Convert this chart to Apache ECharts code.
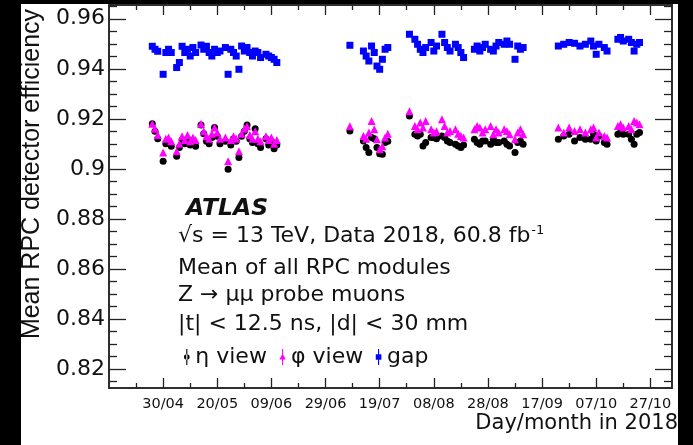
<!DOCTYPE html>
<html><head><meta charset="utf-8">
<script src="https://cdn.jsdelivr.net/npm/echarts@6/dist/echarts.min.js"></script>
<style>
html,body{margin:0;padding:0;background:#000;overflow:hidden;}
#frame{position:absolute;left:21px;top:4px;width:657px;height:441px;background:#fff;}
#chart{position:absolute;left:0;top:0;width:693px;height:445px;}
</style></head>
<body><div id="frame"></div><div id="chart"></div>
<script>
// Day of year 2018 of each run
const runDays = [
  116,117,118,120,121,122,123,125,126,127,128,129,130,131,132,134,135,136,137,138,139,140,141,143,144,145,146,147,148,149,150,151,152,153,154,155,156,158,159,160,161,162,
  189,194,195,196,197,198,199,200,201,202,203,
  211,213,214,215,216,217,219,220,221,223,224,225,226,228,229,230,231,235,236,237,238,239,241,242,243,244,246,247,248,250,251,252,253,
  266,268,270,272,274,276,278,279,280,281,283,284,
  288,289,290,292,293,294,295,296
];
const etaEff = [
  0.9180,0.9150,0.9120,0.9030,0.9100,0.9110,0.9090,0.9050,0.9085,0.9115,0.9100,0.9120,0.9095,0.9110,0.9090,0.9175,0.9140,0.9110,0.9100,0.9125,0.9165,0.9130,0.9100,0.9110,0.8998,0.9095,0.9120,0.9110,0.9045,0.9130,0.9150,0.9175,0.9120,0.9105,0.9160,0.9100,0.9085,0.9120,0.9095,0.9110,0.9080,0.9095,
  0.9151,0.9111,0.9085,0.9065,0.9125,0.9120,0.9085,0.9060,0.9058,0.9105,0.9110,
  0.9211,0.9138,0.9131,0.9138,0.9091,0.9105,0.9125,0.9125,0.9120,0.9131,0.9125,0.9111,0.9105,0.9098,0.9091,0.9085,0.9095,0.9118,0.9105,0.9098,0.9111,0.9111,0.9098,0.9118,0.9105,0.9105,0.9111,0.9098,0.9091,0.9065,0.9105,0.9111,0.9098,
  0.9118,0.9131,0.9138,0.9111,0.9125,0.9118,0.9118,0.9138,0.9111,0.9131,0.9105,0.9098,
  0.9138,0.9145,0.9138,0.9138,0.9118,0.9098,0.9138,0.9145
];
const phiEff = [
  0.9180,0.9160,0.9135,0.9065,0.9120,0.9125,0.9110,0.9070,0.9100,0.9130,0.9115,0.9135,0.9110,0.9125,0.9115,0.9180,0.9150,0.9130,0.9120,0.9140,0.9165,0.9145,0.9120,0.9125,0.9030,0.9115,0.9130,0.9120,0.9070,0.9140,0.9160,0.9170,0.9135,0.9120,0.9150,0.9120,0.9110,0.9130,0.9115,0.9125,0.9100,0.9115,
  0.9170,0.9131,0.9120,0.9145,0.9191,0.9158,0.9118,0.9078,0.9090,0.9125,0.9140,
  0.9230,0.9171,0.9158,0.9185,0.9165,0.9191,0.9158,0.9145,0.9150,0.9198,0.9171,0.9145,0.9151,0.9158,0.9140,0.9131,0.9125,0.9158,0.9171,0.9165,0.9145,0.9158,0.9171,0.9138,0.9158,0.9145,0.9158,0.9151,0.9138,0.9118,0.9145,0.9158,0.9138,
  0.9165,0.9145,0.9165,0.9151,0.9158,0.9145,0.9158,0.9165,0.9125,0.9145,0.9131,0.9125,
  0.9171,0.9178,0.9165,0.9171,0.9158,0.9191,0.9185,0.9178
];
const gapEff = [
  0.9490,0.9478,0.9470,0.9378,0.9465,0.9478,0.9465,0.9405,0.9425,0.9490,0.9465,0.9478,0.9451,0.9485,0.9465,0.9495,0.9478,0.9490,0.9465,0.9451,0.9478,0.9465,0.9471,0.9485,0.9378,0.9478,0.9465,0.9451,0.9398,0.9491,0.9471,0.9485,0.9465,0.9451,0.9471,0.9465,0.9445,0.9458,0.9451,0.9445,0.9438,0.9425,
  0.9494,0.9471,0.9451,0.9431,0.9491,0.9465,0.9411,0.9398,0.9438,0.9478,0.9485,
  0.9538,0.9518,0.9498,0.9478,0.9465,0.9485,0.9505,0.9471,0.9491,0.9538,0.9505,0.9485,0.9471,0.9498,0.9485,0.9465,0.9445,0.9478,0.9491,0.9471,0.9485,0.9498,0.9478,0.9471,0.9491,0.9505,0.9498,0.9511,0.9498,0.9438,0.9491,0.9478,0.9485,
  0.9491,0.9498,0.9505,0.9502,0.9491,0.9498,0.9511,0.9491,0.9458,0.9498,0.9485,0.9471,
  0.9518,0.9525,0.9511,0.9518,0.9505,0.9471,0.9498,0.9505
];
const seriesNames = ['η view', 'φ view', 'gap'];
const xTickDays = [120,140,160,180,200,220,240,260,280,300];
const xTickLabels = ['30/04','20/05','09/06','29/06','19/07','08/08','28/08','17/09','07/10','27/10'];
const yTickValues = [0.82,0.84,0.86,0.88,0.90,0.92,0.94,0.96];

const X_MIN = 100, X_MAX = 308;
const Y_MIN = 0.8124, Y_MAX = 0.9655;
const FONT = 'DejaVu Sans';
const HELV = 'Liberation Sans';
const INK = '#111';
const LINE = '#222';

const xMinor = xTickDays.map(d => d - 10);
const yMinor = [];
[0.80].concat(yTickValues).forEach(v => {
  [0.005, 0.01, 0.015].forEach(s => {
    const m = Math.round((v + s) * 1000) / 1000;
    if (m > Y_MIN && m < Y_MAX && yTickValues.indexOf(m) < 0) yMinor.push(m);
  });
});

function xAx(pos, ticks, len, withLabels) {
  return {
    type: 'value', position: pos, min: X_MIN, max: X_MAX,
    axisLine: {show: true, onZero: false, lineStyle: {color: LINE, width: 1.5}},
    axisTick: {show: true, inside: true, length: len, customValues: ticks, lineStyle: {color: LINE, width: 1.3}},
    axisLabel: withLabels ? {
      show: true, customValues: xTickDays, margin: 9,
      fontFamily: FONT, fontSize: 14.5, color: INK,
      formatter: v => { const i = xTickDays.indexOf(v); return i >= 0 ? xTickLabels[i] : ''; }
    } : {show: false},
    splitLine: {show: false}
  };
}
function yAx(pos, ticks, len, withLabels) {
  return {
    type: 'value', position: pos, min: Y_MIN, max: Y_MAX,
    axisLine: {show: true, onZero: false, lineStyle: {color: LINE, width: 1.5}},
    axisTick: {show: true, inside: true, length: len, customValues: ticks, lineStyle: {color: LINE, width: 1.3}},
    axisLabel: withLabels ? {
      show: true, customValues: yTickValues, margin: 4,
      fontFamily: FONT, fontSize: 22, color: INK,
      formatter: v => String(parseFloat(Number(v).toFixed(2)))
    } : {show: false},
    splitLine: {show: false}
  };
}

const lineIcon = 'M4.3,0H5.7V20H4.3Z ';
const icons = [
  'path://' + lineIcon + 'M1.5,10A3.5,3.5 0 1 0 8.5,10A3.5,3.5 0 1 0 1.5,10Z',
  'path://' + lineIcon + 'M5,5.5L9,13L1,13Z',
  'path://' + lineIcon + 'M1.5,6.5H8.5V13.5H1.5Z'
];
const colors = ['#000000', '#ff00ff', '#0000ff'];
const symbols = ['circle', 'triangle', 'rect'];
const sizes = [7, 8, 7];
const values = [etaEff, phiEff, gapEff];

const chart = echarts.init(document.getElementById('chart'), null, {renderer: 'canvas'});
chart.setOption({
  backgroundColor: 'transparent',
  animation: false,
  grid: {left: 109, right: 21, top: 5, bottom: 57, containLabel: false},
  xAxis: [
    xAx('bottom', xTickDays, 10, true),
    xAx('bottom', xMinor, 5, false),
    xAx('top', xTickDays, 10, false),
    xAx('top', xMinor, 5, false)
  ],
  yAxis: [
    yAx('left', yTickValues, 17, true),
    yAx('left', yMinor, 8, false),
    yAx('right', yTickValues, 17, false),
    yAx('right', yMinor, 8, false)
  ],
  legend: {
    left: 184, top: 346, padding: 0, itemWidth: 7, itemHeight: 16, itemGap: 12.5,
    textStyle: {fontFamily: FONT, fontSize: 22, color: INK},
    data: seriesNames.map((n, i) => ({name: n, icon: icons[i]})),
    selectedMode: false
  },
  series: seriesNames.map((n, i) => ({
    name: n, type: 'scatter', xAxisIndex: 0, yAxisIndex: 0,
    symbol: symbols[i], symbolSize: sizes[i],
    itemStyle: {color: colors[i], opacity: 1},
    data: runDays.map((d, k) => [d, values[i][k]])
  })),
  graphic: [
    {type: 'text', x: 186, y: 208.5, style: {text: 'ATLAS', fontFamily: FONT, fontSize: 23.5, fontWeight: 'bold', fontStyle: 'italic', fill: INK, align: 'left', verticalAlign: 'middle'}},
    {type: 'text', x: 178, y: 236.5, style: {text: '√s = 13 TeV, Data 2018, 60.8 fb{sup|-1}', fontFamily: FONT, fontSize: 22, fill: INK, align: 'left', verticalAlign: 'middle',
      rich: {sup: {fontFamily: FONT, fontSize: 13, fill: INK, verticalAlign: 'top', padding: [0, 0, 12, 1]}}}},
    {type: 'text', x: 178, y: 268.5, style: {text: 'Mean of all RPC modules', fontFamily: FONT, fontSize: 22, fill: INK, align: 'left', verticalAlign: 'middle'}},
    {type: 'text', x: 178, y: 295.5, style: {text: 'Z → μμ probe muons', fontFamily: FONT, fontSize: 22, fill: INK, align: 'left', verticalAlign: 'middle'}},
    {type: 'text', x: 178, y: 324, style: {text: '|t| < 12.5 ns, |d| < 30 mm', fontFamily: FONT, fontSize: 22, fill: INK, align: 'left', verticalAlign: 'middle'}},
    {type: 'text', x: 678, y: 424, style: {text: 'Day/month in 2018', fontFamily: FONT, fontSize: 21, fill: INK, align: 'right', verticalAlign: 'middle'}},
    {type: 'text', x: 32, y: 174, rotation: Math.PI / 2, style: {text: 'Mean RPC detector efficiency', fontFamily: HELV, fontSize: 25, fill: INK, align: 'center', verticalAlign: 'middle'}}
  ]
});
</script>
</body></html>
